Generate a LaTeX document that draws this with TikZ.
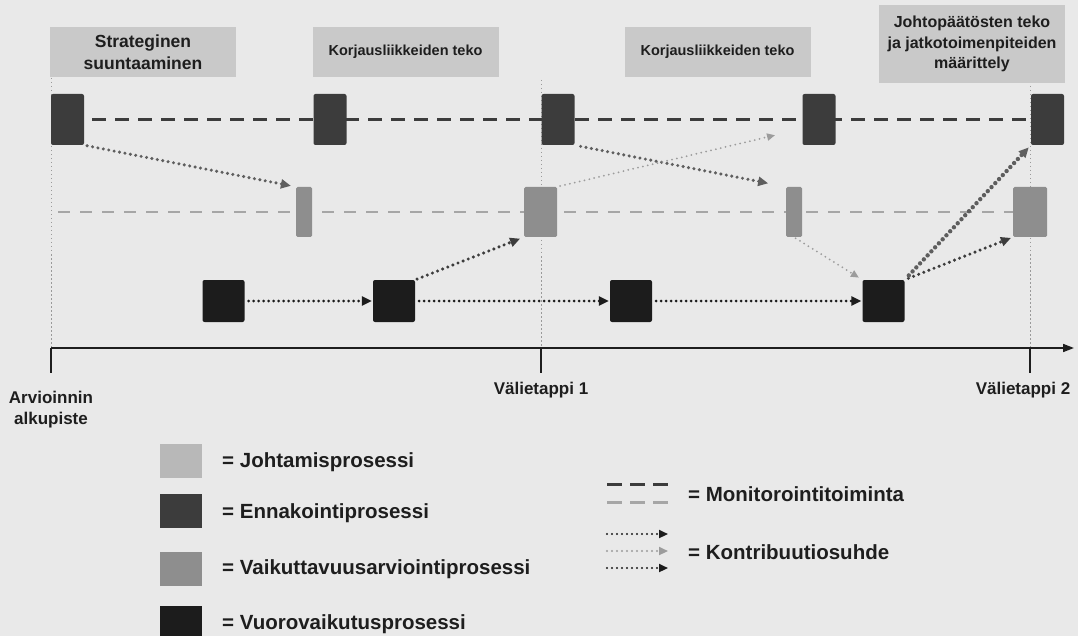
\documentclass[tikz,border=0pt]{standalone}
\usepackage{fontspec}
\setmainfont{Liberation Sans}
\usetikzlibrary{arrows.meta}
\pgfdeclarelayer{back}
\pgfdeclarelayer{bg}
\pgfsetlayers{back,bg,main}
\definecolor{bgc}{HTML}{E9E9E9}
\definecolor{hdrc}{HTML}{C9C9C9}
\definecolor{enncol}{HTML}{3C3C3C}
\definecolor{vaicol}{HTML}{8E8E8E}
\definecolor{vuocol}{HTML}{1C1C1C}
\definecolor{johcol}{HTML}{B8B8B8}
\definecolor{txt}{HTML}{1E1E1E}
\definecolor{monlight}{HTML}{A6A6A6}
\definecolor{vgrid}{HTML}{9A9A9A}
\definecolor{cgray}{HTML}{5E5E5E}
\definecolor{clight}{HTML}{9C9C9C}
\begin{document}
\begin{tikzpicture}[x=1pt,y=-1pt,
  every node/.style={font=\bfseries, text=txt, inner sep=0pt},
  hdr/.style={fill=hdrc, minimum width=186pt, align=center},
  enn/.style={fill=enncol, rounded corners=2pt, minimum width=33pt, minimum height=51pt},
  vai/.style={fill=vaicol, rounded corners=1.5pt, minimum height=50pt},
  vuo/.style={fill=vuocol, rounded corners=2pt, minimum width=42pt, minimum height=42pt},
  swatch/.style={minimum width=42pt, minimum height=34pt},
  legtext/.style={anchor=west, font=\bfseries\fontsize{20.5}{24}\selectfont},
  axlabel/.style={font=\bfseries\fontsize{17}{21}\selectfont, align=center},
  monitor/.style={line width=3pt, enncol, dash pattern=on 14pt off 9pt},
  monitorlight/.style={line width=2.3pt, monlight, dash pattern=on 12pt off 10pt},
  vdots/.style={line width=1pt, vgrid, dash pattern=on 1.5pt off 2.5pt},
  tipc/.style={-{Triangle[length=10pt,width=9pt]}},
  contrib/.style={tipc, line width=3.4pt, dash pattern=on 0pt off 5.5pt, line cap=round},
  contribthin/.style={-{Triangle[length=8pt,width=7pt]}, line width=2pt, dash pattern=on 0pt off 5pt, line cap=round, clight},
  bottomflow/.style={tipc, line width=3pt, dash pattern=on 0pt off 5pt, line cap=round, vuocol},
  legarrow/.style={-{Triangle[length=9pt,width=8pt]}, line width=2.2pt, dash pattern=on 0pt off 5pt, line cap=round},
  axisline/.style={line width=1.6pt, draw=txt}
]
% background
\begin{pgfonlayer}{back}
\fill[bgc] (0,0) rectangle (1078,636);
\end{pgfonlayer}
\useasboundingbox (0,0) rectangle (1078,636);

% header boxes
\node[hdr, minimum height=50pt, font=\bfseries\fontsize{17.5}{22}\selectfont] (H1) at (143,52) {Strateginen\\suuntaaminen};
\node[hdr, minimum height=50pt, font=\bfseries\fontsize{14.5}{17}\selectfont] (H2) at (405.5,52) {Korjausliikkeiden teko};
\node[hdr, minimum height=50pt, font=\bfseries\fontsize{14.5}{17}\selectfont] (H3) at (717.5,52) {Korjausliikkeiden teko};
\node[hdr, minimum height=78pt, font=\bfseries\fontsize{16}{20.5}\selectfont] (H4) at (972,44) {Johtopäätösten teko\\ja jatkotoimenpiteiden\\määrittely};

% Ennakointi row
\node[enn] (E1) at (67.5,119.5) {};
\node[enn] (E2) at (330,119.5) {};
\node[enn] (E3) at (558,119.5) {};
\node[enn] (E4) at (819,119.5) {};
\node[enn] (E5) at (1047.5,119.5) {};

% Vaikuttavuus row
\node[vai, minimum width=16pt] (V1) at (304,212) {};
\node[vai, minimum width=33pt] (V2) at (540.5,212) {};
\node[vai, minimum width=16pt] (V3) at (794,212) {};
\node[vai, minimum width=34pt] (V4) at (1030,212) {};

% Vuorovaikutus row
\node[vuo] (B1) at (223.5,301) {};
\node[vuo] (B2) at (394,301) {};
\node[vuo] (B3) at (631,301) {};
\node[vuo] (B4) at (883.5,301) {};

% coordinates for axis and guides
\coordinate (ax0) at (51,348);
\coordinate (ax1) at (541,348);
\coordinate (ax2) at (1030,348);
\coordinate (axend) at (1074,348);
\coordinate (g0) at (51,70);
\coordinate (g1) at (541,80);
\coordinate (g2) at (1030,86);
\coordinate (t0) at (51,373);
\coordinate (t1) at (541,373);
\coordinate (t2) at (1030,373);
\coordinate (mstart) at (58,212);
\coordinate (tstart) at (92,119.5);

\begin{pgfonlayer}{bg}
% vertical guides
\draw[vdots] (g0) -- (ax0);
\draw[vdots] (g1) -- (ax1);
\draw[vdots] (g2) -- (ax2);
% monitoring lines
\draw[monitor] (tstart) -- (E5.west);
\draw[monitorlight] (mstart) -- (V4.west);
\end{pgfonlayer}

% time axis
\draw[axisline, -{Triangle[length=11pt,width=8pt]}] (ax0) -- (axend);
\draw[axisline] (ax0) -- (t0);
\draw[axisline] (ax1) -- (t1);
\draw[axisline] (ax2) -- (t2);

\node[axlabel] (L0) at (51,410) {Arvioinnin\\alkupiste};
\node[axlabel] (L1) at (541,390) {Välietappi 1};
\node[axlabel] (L2) at (1023,390) {Välietappi 2};

% contribution arrows
\draw[contrib, cgray, shorten <=3pt, shorten >=5pt] (E1.south east) -- (V1.north west);
\draw[contrib, cgray, shorten <=6pt, shorten >=18pt] (E3.south east) -- (V3.north west);
\draw[contribthin, shorten <=3pt, shorten >=28pt] (V2.north east) -- (E4.209);
\draw[contribthin, shorten <=2pt, shorten >=4pt] (V3.south) -- (B4.north west);
\draw[contrib, enncol, shorten <=2pt, shorten >=4pt] (B2.north east) -- (V2.south west);
\draw[contrib, enncol, shorten <=4pt, shorten >=2pt] (B4.north east) -- (V4.south west);
\draw[contrib, cgray, line width=4.4pt, shorten <=6pt, shorten >=3pt] (B4.north east) -- (E5.south west);
\draw[bottomflow, shorten <=4pt, shorten >=1pt] (B1.east) -- (B2.west);
\draw[bottomflow, shorten <=4pt, shorten >=1pt] (B2.east) -- (B3.west);
\draw[bottomflow, shorten <=4pt, shorten >=1pt] (B3.east) -- (B4.west);

% legend (processes)
\node[swatch, fill=johcol] (LJ) at (181,460.5) {};
\node[swatch, fill=enncol] (LE) at (181,510.5) {};
\node[swatch, fill=vaicol] (LV) at (181,569) {};
\node[swatch, fill=vuocol] (LB) at (181,623) {};
\node[legtext] (TJ) at (222,462) {= Johtamisprosessi};
\node[legtext] (TE) at (222,513) {= Ennakointiprosessi};
\node[legtext] (TV) at (222,569) {= Vaikuttavuusarviointiprosessi};
\node[legtext] (TB) at (222,624) {= Vuorovaikutusprosessi};

% legend (lines)
\coordinate (m1a) at (607,484);
\coordinate (m1b) at (668,484);
\coordinate (m2a) at (607,502);
\coordinate (m2b) at (668,502);
\draw[line width=3pt, enncol, dash pattern=on 15pt off 8pt] (m1a) -- (m1b);
\draw[line width=3pt, monlight, dash pattern=on 15pt off 8pt] (m2a) -- (m2b);
\node[legtext] (TM) at (688,494) {= Monitorointitoiminta};

\coordinate (k1a) at (607,534);
\coordinate (k1b) at (668,534);
\coordinate (k2a) at (607,551);
\coordinate (k2b) at (668,551);
\coordinate (k3a) at (607,568);
\coordinate (k3b) at (668,568);
\draw[legarrow, vuocol] (k1a) -- (k1b);
\draw[legarrow, clight] (k2a) -- (k2b);
\draw[legarrow, vuocol] (k3a) -- (k3b);
\node[legtext] (TK) at (688,552) {= Kontribuutiosuhde};
\end{tikzpicture}
\end{document}
